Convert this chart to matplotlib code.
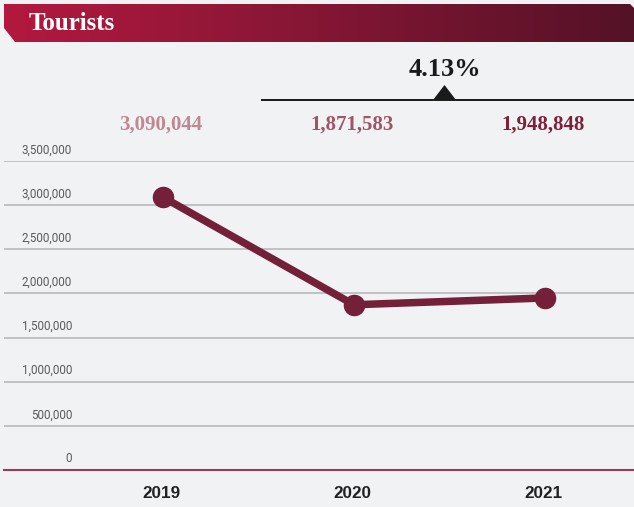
import matplotlib
matplotlib.use("Agg")
import matplotlib.pyplot as plt
import numpy as np
from matplotlib.colors import LinearSegmentedColormap
from matplotlib.patches import Polygon
from matplotlib.transforms import ScaledTranslation

# Data
years = ["2019", "2020", "2021"]
tourists = [3090044, 1871583, 1948848]
y_ticks = [0, 500000, 1000000, 1500000, 2000000, 2500000, 3000000, 3500000]
value_colors = ["#c08892", "#9e5566", "#7d2039"]
title = "Tourists"

BG = "#f1f2f4"
LINE = "#74203a"
W, H = 634, 507

fig = plt.figure(figsize=(W / 100, H / 100), dpi=100, facecolor=BG)

# Background layer in pixel coordinates for the header decorations
bg = fig.add_axes([0, 0, 1, 1], zorder=0)
bg.set_xlim(0, W)
bg.set_ylim(H, 0)
bg.axis("off")

# Gradient title banner with bevelled corners
cmap = LinearSegmentedColormap.from_list("banner", ["#b3193f", "#841634", "#541227"])
grad = np.linspace(0, 1, 512).reshape(1, -1)
im = bg.imshow(grad, cmap=cmap, extent=(4, W, 42, 4), aspect="auto", zorder=1)
clip = Polygon([(4, 4), (630, 4), (634, 8), (634, 42), (15, 42), (4, 28)],
               closed=True, transform=bg.transData, facecolor="none", edgecolor="none")
bg.add_patch(clip)
im.set_clip_path(clip)
bg.set_xlim(0, W)
bg.set_ylim(H, 0)
bg.text(29, 23, title, color="white", fontsize=18, fontweight="bold",
        family="Liberation Serif", va="center", ha="left", zorder=2)

# Year-over-year change indicator
change = (tourists[2] / tourists[1] - 1) * 100
bg.plot([261, W], [100, 100], color="#1a1a1a", lw=1.4, zorder=2, solid_capstyle="butt")
bg.add_patch(Polygon([(433, 100), (456, 100), (444.5, 85)], closed=True,
                     facecolor="#1a1a1a", edgecolor="none", zorder=3))
bg.text(445, 69, f"{change:.2f}%", color="#1a1a1a", fontsize=19, fontweight="bold",
        family="Liberation Serif", ha="center", va="center", zorder=3)

# Main line chart
ax = fig.add_axes([4 / W, 37 / H, 630 / W, 309 / H], zorder=1)
ax.patch.set_alpha(0)
x = np.arange(len(years))
ax.set_xlim(-0.832, 2.466)
ax.set_ylim(0, 3500000)
for s in ax.spines.values():
    s.set_visible(False)
ax.set_xticks([])
ax.set_yticks([])

for v in y_ticks[1:]:
    ax.axhline(v, color="#b9b9bb", lw=1.2, zorder=1)
ax.axhline(0, color="#9b3a52", lw=1.5, zorder=1, clip_on=False)

up = ScaledTranslation(0, 11 / 100, fig.dpi_scale_trans)
for v in y_ticks:
    ax.text(0.108, v, f"{v:,}", transform=ax.get_yaxis_transform() + up,
            ha="right", va="center", fontsize=8.4, family="Roboto", color="#5a5a5a")

ax.plot(x, tourists, color=LINE, lw=5.4, marker="o", markersize=14.5,
        solid_capstyle="round", zorder=3, clip_on=False)

below = ScaledTranslation(0, -23 / 100, fig.dpi_scale_trans)
above = ScaledTranslation(0, 36 / 100, fig.dpi_scale_trans)
for xi, yr, val, col in zip(x, years, tourists, value_colors):
    ax.text(xi - 0.01, 0, yr, transform=ax.get_xaxis_transform() + below,
            ha="center", va="center", fontsize=12.3, fontweight="bold",
            family="Liberation Sans", color="#222222")
    ax.text(xi - 0.01, 1, f"{val:,}", transform=ax.get_xaxis_transform() + above,
            ha="center", va="center", fontsize=15, fontweight="bold",
            family="Liberation Serif", color=col)

fig.savefig("out.png", dpi=100, facecolor=BG)
